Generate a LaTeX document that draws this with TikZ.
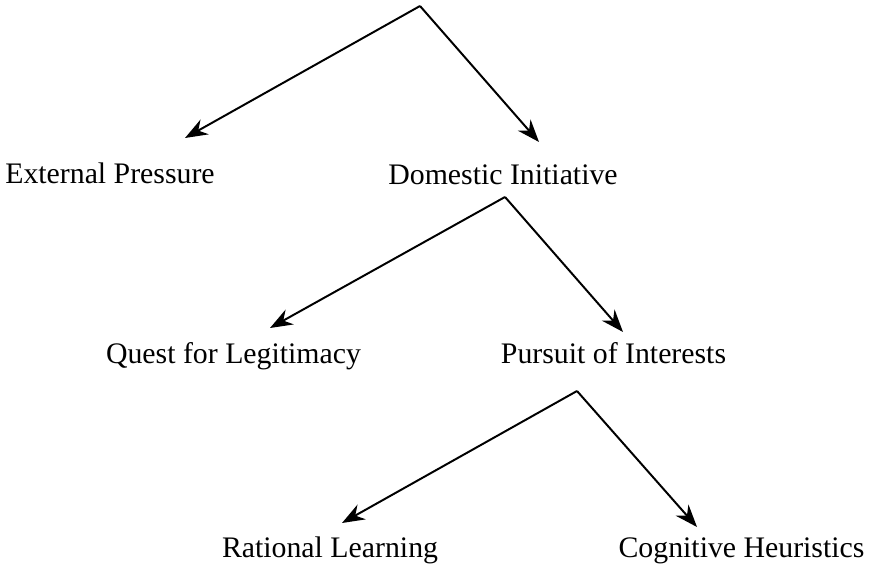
\documentclass[tikz,border=0pt]{standalone}
\usepackage{fontspec}
\setmainfont{Liberation Serif}
\usepackage{tikz}
\usetikzlibrary{positioning}
\usetikzlibrary{arrows.meta}

\begin{document}
\begin{tikzpicture}

          \tikzstyle{labelNode} = [black, inner sep=0pt, anchor=base, font=\fontsize{10.6}{12}\selectfont];
          \tikzstyle{treeEdge} = [line width=0.7pt, -{Stealth[length=8pt, width=6pt, inset=2.6pt]}];

          \useasboundingbox (0,0) rectangle (10.8625,7.1625);

          \node[labelNode] (ext) at (1.375,4.8625) {External Pressure};
          \node[labelNode] (dom) at (6.2875,4.85) {Domestic Initiative};
          \node[labelNode] (quest) at (2.919,2.6125) {Quest for Legitimacy};
          \node[labelNode] (pursuit) at (7.669,2.6125) {Pursuit of Interests};
          \node[labelNode] (rational) at (4.125,0.2) {Rational Learning};
          \node[labelNode] (cognitive) at (9.269,0.2) {Cognitive Heuristics};

          \coordinate (root) at (5.25,7.0875);
          \coordinate (extTip) at (2.3125,5.4375);
          \coordinate (domTip) at (6.7375,5.3875);
          \coordinate (domFork) at (6.3125,4.7);
          \coordinate (questTip) at (3.375,3.0625);
          \coordinate (pursuitTip) at (7.7875,3.0125);
          \coordinate (pursuitFork) at (7.2125,2.275);
          \coordinate (rationalTip) at (4.275,0.625);
          \coordinate (cognitiveTip) at (8.7125,0.575);

          \draw[treeEdge] (root) -- (extTip);
          \draw[treeEdge] (root) -- (domTip);
          \draw[treeEdge] (domFork) -- (questTip);
          \draw[treeEdge] (domFork) -- (pursuitTip);
          \draw[treeEdge] (pursuitFork) -- (rationalTip);
          \draw[treeEdge] (pursuitFork) -- (cognitiveTip);
        \end{tikzpicture}
\end{document}
